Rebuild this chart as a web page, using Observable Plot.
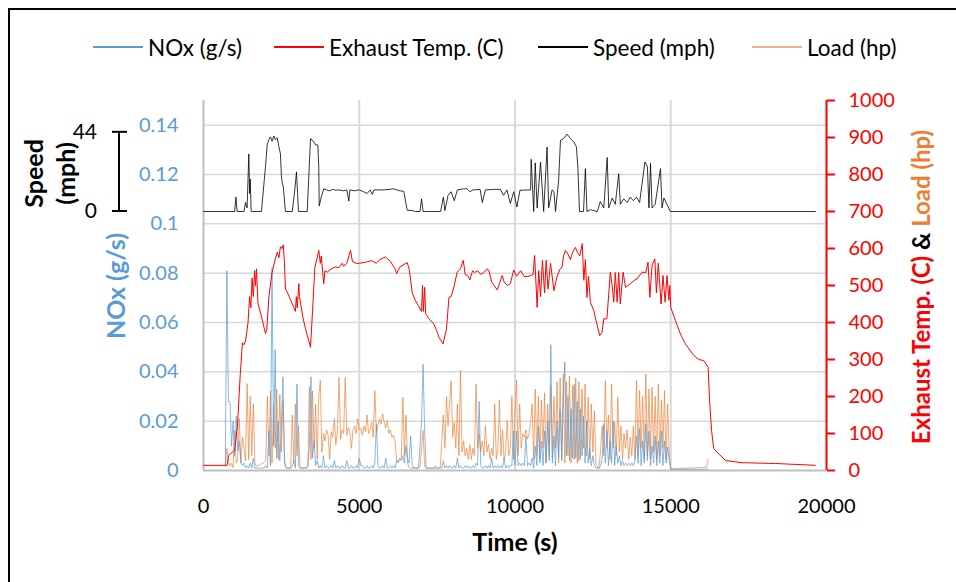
<!DOCTYPE html>
<html><head><meta charset="utf-8">
<script src="https://cdn.jsdelivr.net/npm/d3@7"></script>
<script src="https://cdn.jsdelivr.net/npm/@observablehq/plot@0.6"></script>
<style>
html,body{margin:0;padding:0;background:#fff;overflow:hidden;width:956px;height:582px;}
#wrap{position:relative;width:956px;height:582px;font-family:Lato, sans-serif;}
#border{position:absolute;left:8px;top:8px;width:1000px;height:1000px;border:2.5px solid #000;box-sizing:border-box;pointer-events:none;}
#legend{position:absolute;top:0;left:0;width:956px;height:95px;}
.li{position:absolute;top:35px;display:flex;align-items:center;height:24px;font-size:22.5px;white-space:nowrap;color:#000;}
.sw{width:50px;height:0;border-top:2px solid;margin-right:5px;}
#chart{position:absolute;left:0;top:0;}
</style></head><body><div id="wrap"><div id="chart"></div><div id="legend"></div><div id="border"></div></div>
<script>
// ---------- data ----------
const seriesNames = ["NOx (g/s)", "Exhaust Temp. (C)", "Speed (mph)", "Load (hp)"];
const seriesColors = ["#5b9bd5", "#ff0000", "#000000", "#f4b183"];
const legendLeft = [93, 274, 538, 752];

const xTicks = [0, 5000, 10000, 15000, 20000];
const noxTicks = [0, 0.02, 0.04, 0.06, 0.08, 0.1, 0.12, 0.14];
const noxMax = 0.15;
const rightTicks = [0, 100, 200, 300, 400, 500, 600, 700, 800, 900, 1000];
const speedTicks = [0, 44];
const speedBase = 700;      // speed 0 sits at 700 on the right axis
const speedSpan = 214;      // 44 mph spans this many right-axis units

// Exhaust temperature (C)
const tempT = [0,760,800,1000,1090,1180,1250,1300,1350,1430,1480,1520,1560,1600,1640,1670,1700,1750,1850,1990,2030,2100,2200,2300,2370,2420,2470,2525,2560,2600,2630,2700,2800,2900,2950,2980,3010,3060,3080,3200,3300,3435,3500,3575,3650,3700,3750,3780,3860,3900,3970,4100,4230,4350,4450,4500,4600,4720,4780,4900,5000,5200,5400,5550,5650,5840,6000,6150,6200,6300,6540,6600,6650,6700,6800,6900,7000,7030,7060,7100,7130,7240,7390,7500,7560,7690,7800,7880,7950,8050,8145,8250,8340,8400,8500,8550,8640,8700,8800,8900,9000,9100,9160,9250,9430,9500,9590,9650,9750,9850,9960,10050,10180,10300,10450,10580,10630,10710,10760,10820,10880,10950,11000,11060,11140,11250,11350,11450,11510,11560,11620,11700,11780,11850,11940,12000,12080,12160,12210,12260,12310,12360,12420,12530,12640,12720,12790,12850,12950,13010,13060,13120,13170,13220,13280,13330,13380,13470,13550,13700,13850,13920,14080,14200,14270,14330,14400,14490,14540,14600,14690,14750,14820,14880,14940,14970,15000,15150,15310,15470,15740,15900,16060,16200,16240,16310,16380,16540,16760,17290,18360,19640];
const tempV = [14,14,40,55,120,260,345,340,350,400,470,440,520,470,540,500,545,450,420,370,380,470,535,570,590,575,605,600,610,560,490,480,460,440,430,470,440,505,470,410,375,333,430,550,575,595,560,580,505,540,536,545,550,548,560,552,560,595,565,560,560,563,567,560,570,577,565,545,532,550,562,545,515,480,460,445,430,500,430,495,424,410,397,375,360,342,383,468,470,500,536,545,568,530,525,515,540,535,540,530,535,545,541,510,488,505,527,510,500,505,542,525,540,524,525,530,581,441,540,470,568,480,568,490,560,486,525,545,550,580,595,585,570,590,603,590,580,613,514,570,468,525,455,432,392,365,372,410,410,477,536,500,455,535,455,535,450,536,495,505,515,518,536,535,563,468,555,572,480,560,450,527,455,527,460,500,441,405,369,342,311,300,297,279,198,108,59,45,27,21,19,14];

// Speed (mph)
const speedT = [0,1000,1040,1080,1300,1350,1400,1455,1480,1500,1530,1860,1990,2045,2100,2150,2200,2260,2300,2365,2420,2470,2500,2525,2560,2630,2850,2930,2985,3020,3050,3330,3435,3530,3600,3670,3700,3715,3780,3860,3950,4050,4150,4250,4350,4500,4600,4665,4700,4850,5000,5140,5250,5350,5420,5470,5800,6110,6300,6430,6540,6700,6800,6950,7000,7050,7140,7610,7700,7750,7850,7950,8050,8150,8350,8460,8550,8650,8880,8950,9050,9350,9530,9630,9740,9850,9960,10060,10160,10500,10520,10600,10650,10710,10820,10920,11030,11080,11190,11250,11300,11400,11460,11560,11670,11780,11890,11970,12020,12070,12200,12260,12310,12420,12640,12740,12850,12960,13010,13120,13220,13330,13380,13490,13600,13700,13800,13900,14000,14170,14250,14300,14350,14400,14500,14670,14720,14780,14880,14990,19640];
const speedV = [0,0,8,0,0,5,2,32,10,18,0,0,25,37,40,41.5,39,42,40,41,36,32,20,16,14,0,0,12,22,10,0,0,40.5,39,37,37,25,3,8,12.6,12,11.5,12.3,11.8,12,11.5,12,5.8,12,11.5,12,11,10,12,9.5,12,12,12.6,11.5,11.2,0.7,0.5,0,0,7,0,0,0,8,0.5,9,11,6,12,12.6,12.6,11,12,12.3,5,12,12.3,12.3,9,12,4.5,11,2.5,11.8,12,29,0,27,2,27.5,0,35.8,2,12,11,0,17,39.6,40.5,43,40.5,38.6,36,24,0,0,23.8,0,1,0,5.5,2,30,2,7.5,4,21,4,7,5,8,6,8,5,27.5,25,2,26.7,2,4,23.8,2,7.5,4,0,0];

// Load (hp) and NOx (g/s), sampled every 50 s from 700 s to 16200 s
const sampleStart = 700, sampleStep = 50;
const loadV = [
15,60,25,12,20,8,108,20,30,140,20,90,60,25,235,30,200,40,180,20,
12,12,15,18,20,22,27,200,40,215,20,180,60,220,30,205,50,190,20,8,
6,6,8,150,20,180,40,120,8,6,6,8,6,10,225,30,215,60,180,30,
200,243,50,100,80,110,95,30,105,90,140,70,110,252,85,110,100,252,95,115,
105,60,110,120,100,140,110,115,95,120,105,150,100,110,130,90,216,100,120,140,
125,153,130,115,135,100,110,90,95,80,27,25,30,35,198,40,150,20,8,6,
6,6,8,6,6,10,60,108,12,6,6,6,6,6,6,6,6,6,8,80,
150,60,200,120,180,243,90,130,60,180,40,270,50,80,40,60,30,70,30,60,
40,234,60,100,50,80,40,120,50,70,30,60,40,180,30,60,190,40,110,30,
50,135,40,60,200,30,160,243,40,180,60,100,90,110,85,100,130,180,30,220,
40,200,30,190,60,210,20,180,40,230,30,200,60,240,20,250,30,261,20,240,
40,255,20,230,30,250,20,240,30,220,60,234,40,198,30,180,50,160,20,8,
6,60,120,40,243,60,150,30,234,60,130,40,198,50,120,30,100,60,110,30,
90,40,120,30,243,40,216,60,200,30,261,40,220,30,225,50,200,30,234,40,
190,60,216,30,180,50,5,5,5,5,5,5,6,6,6,6,6,6,7,7,
7,7,7,8,8,8,8,8,9,9,30];
const noxV = [
.002,.081,.028,.028,.01,.02,.006,.022,.008,.012,.003,.002,.003,.001,.002,.001,.003,.001,.005,.001,
.001,.001,.001,.001,.001,.001,.002,.001,.016,.002,.082,.01,.049,.005,.02,.004,.018,.038,.004,.001,
.001,.001,.001,.002,.004,.001,.035,.002,.001,.001,.001,.001,.001,.002,.01,.038,.005,.012,.002,.004,
.001,.002,.001,.006,.001,.002,.001,.001,.002,.001,.004,.001,.002,.001,.001,.002,.001,.001,.004,.001,
.001,.002,.001,.001,.002,.001,.005,.002,.002,.001,.001,.002,.001,.001,.002,.001,.003,.019,.002,.001,
.001,.002,.001,.005,.001,.001,.002,.001,.002,.001,.004,.003,.005,.004,.006,.003,.01,.005,.003,.014,
.002,.001,.001,.001,.001,.01,.02,.043,.016,.001,.001,.001,.001,.001,.001,.002,.001,.001,.001,.001,
.004,.001,.002,.001,.002,.001,.001,.002,.001,.005,.001,.002,.001,.001,.002,.001,.002,.001,.001,.002,
.001,.003,.002,.028,.002,.001,.001,.002,.001,.002,.001,.005,.001,.002,.001,.002,.001,.002,.001,.005,
.001,.002,.001,.002,.002,.016,.002,.016,.002,.003,.002,.003,.002,.014,.002,.003,.002,.005,.001,.01,
.002,.018,.003,.012,.002,.016,.003,.02,.004,.051,.003,.014,.002,.02,.005,.025,.004,.028,.044,.006,
.03,.004,.025,.005,.035,.005,.028,.004,.025,.006,.022,.003,.02,.003,.009,.002,.006,.002,.001,.001,
.001,.002,.005,.019,.003,.016,.002,.012,.003,.02,.002,.01,.003,.006,.002,.004,.002,.003,.002,.003,
.002,.003,.002,.004,.014,.003,.017,.002,.012,.003,.019,.004,.016,.002,.01,.003,.014,.002,.012,.003,
.016,.002,.012,.003,.0095,.004,.0005,.0005,.0005,.0005,.0005,.0005,.0005,.0005,.0005,.0005,.0005,.0005,.0005,.0005,
.0005,.0005,.0005,.0005,.0005,.0005,.0005,.0005,.0005,.0005,.0005];

// ---------- build ----------
const noxToY = v => v / noxMax * 1000;
const speedToY = s => speedBase + s * speedSpan / 44;
const tempData = tempT.map((t, i) => ({t, y: tempV[i]}));
const speedData = speedT.map((t, i) => ({t, y: speedToY(speedV[i])}));
const loadData = loadV.map((v, i) => ({t: sampleStart + i * sampleStep, y: v}));
const noxData = noxV.map((v, i) => ({t: sampleStart + i * sampleStep, y: noxToY(v)}));

const plot = Plot.plot({
  width: 956, height: 582,
  marginLeft: 203, marginRight: 130, marginTop: 100, marginBottom: 112,
  style: {fontFamily: "Lato, sans-serif", fontSize: "20px", color: "#000", background: "#fff", overflow: "visible"},
  x: {domain: [0, 20000], axis: null, label: null},
  y: {domain: [0, 1000], axis: null, label: null},
  marks: [
    Plot.gridY(noxTicks.filter(v => v > 0).map(noxToY), {stroke: "#d9d9d9", strokeOpacity: 1, strokeWidth: 1.5}),
    Plot.gridX(xTicks.slice(1, 4), {stroke: "#d9d9d9", strokeOpacity: 1, strokeWidth: 2}),
    Plot.ruleX([0], {stroke: "#bfbfbf", strokeWidth: 2}),
    Plot.ruleY([0], {stroke: "#bfbfbf", strokeWidth: 2}),
    Plot.line(loadData, {x: "t", y: "y", stroke: "#ed7d31", strokeWidth: 0.9, strokeOpacity: 0.75}),
    Plot.line(noxData, {x: "t", y: "y", stroke: "#5b9bd5", strokeWidth: 0.8, strokeOpacity: 0.9}),
    Plot.line(tempData, {x: "t", y: "y", stroke: "#ff0000", strokeWidth: 1}),
    Plot.line(speedData, {x: "t", y: "y", stroke: "#000", strokeWidth: 0.8}),
    Plot.ruleX([20000], {stroke: "#ff0000", strokeWidth: 2}),
    Plot.axisY(noxTicks.map(noxToY), {anchor: "left", tickSize: 0, tickPadding: 25, label: null,
      tickFormat: d => String(+(d / 1000 * noxMax).toFixed(2)), color: "#5b9bd5", fontSize: 20}),
    Plot.axisY(rightTicks, {anchor: "right", tickSize: 8, tickPadding: 14, label: null, tickFormat: d => String(d), color: "#ff0000", strokeWidth: 2, fontSize: 20}),
    Plot.axisX(xTicks, {anchor: "bottom", tickSize: 0, tickPadding: 28, label: null, tickFormat: d => String(d), fontSize: 20, color: "#000"}),
    Plot.text(["Time (s)"], {frameAnchor: "bottom", dy: 80, fontWeight: "bold", fontSize: 25, fill: "#000"})
  ]
});
document.getElementById("chart").appendChild(plot);

// extra annotations positioned through the y scale
const ys = plot.scale("y");
const svg = d3.select(plot);
const g = svg.append("g").attr("font-family", "Lato, sans-serif");
const yS0 = ys.apply(speedToY(speedTicks[0])), yS1 = ys.apply(speedToY(speedTicks[1]));
g.append("line").attr("x1", 119).attr("x2", 119).attr("y1", yS1).attr("y2", yS0).attr("stroke", "#000").attr("stroke-width", 2);
[yS0, yS1].forEach(y => g.append("line").attr("x1", 112).attr("x2", 127).attr("y1", y).attr("y2", y).attr("stroke", "#000").attr("stroke-width", 2));
[[yS0, speedTicks[0]], [yS1, speedTicks[1]]].forEach(([y, v]) =>
  g.append("text").attr("x", 97).attr("y", y).attr("text-anchor", "end").attr("dy", "0.35em").attr("font-size", 21).attr("fill", "#000").text(v));
const mid = (yS0 + yS1) / 2;
g.append("text").attr("transform", `translate(34,${mid + 2}) rotate(-90)`).attr("text-anchor", "middle").attr("dy", "0.35em").attr("font-size", 25).attr("font-weight", "bold").attr("fill", "#000").text("Speed");
g.append("text").attr("transform", `translate(66,${mid + 2}) rotate(-90)`).attr("text-anchor", "middle").attr("dy", "0.35em").attr("font-size", 25).attr("font-weight", "bold").attr("fill", "#000").text("(mph)");
g.append("text").attr("transform", `translate(116,286) rotate(-90)`).attr("text-anchor", "middle").attr("dy", "0.35em").attr("font-size", 25).attr("font-weight", "bold").attr("fill", "#5b9bd5").text("NOx (g/s)");
const rt = g.append("text").attr("transform", `translate(922,287) rotate(-90)`).attr("text-anchor", "middle").attr("dy", "0.35em").attr("font-size", 24).attr("font-weight", "bold");
rt.append("tspan").attr("fill", "#ff0000").text("Exhaust Temp. (C) ");
rt.append("tspan").attr("fill", "#000").text("& ");
rt.append("tspan").attr("fill", "#ed7d31").text("Load (hp)");

// legend
const leg = document.getElementById("legend");
seriesNames.forEach((name, i) => {
  const item = document.createElement("div");
  item.className = "li";
  item.style.left = legendLeft[i] + "px";
  const sw = document.createElement("span");
  sw.className = "sw";
  sw.style.borderTopColor = seriesColors[i];
  const tx = document.createElement("span");
  tx.textContent = name;
  item.appendChild(sw); item.appendChild(tx);
  leg.appendChild(item);
});
</script></body></html>
